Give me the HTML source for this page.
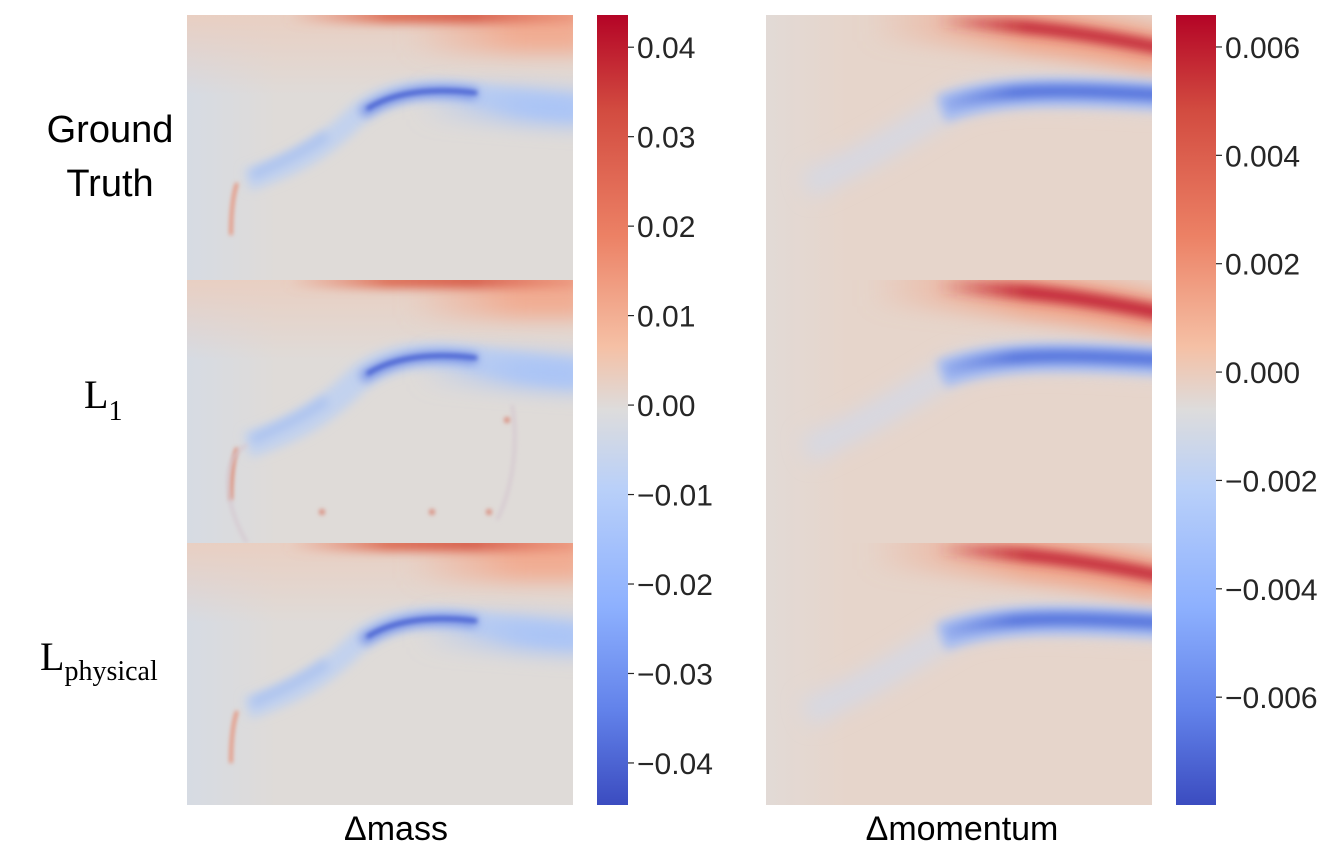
<!DOCTYPE html>
<html><head><meta charset="utf-8"><style>
body{margin:0;background:#fff;}
svg{display:block;font-family:"Liberation Sans",sans-serif;}
</style></head><body>
<svg id="fig" width="1340" height="861" viewBox="0 0 1340 861" xmlns="http://www.w3.org/2000/svg">
<defs>
<linearGradient id="cw" x1="0" y1="0" x2="0" y2="1">
<stop offset="0" stop-color="#b40426"/><stop offset="0.12" stop-color="#d24b40"/><stop offset="0.28" stop-color="#ec8165"/>
<stop offset="0.42" stop-color="#f5c0a5"/><stop offset="0.5" stop-color="#dddcdc"/><stop offset="0.6" stop-color="#b9d0f9"/>
<stop offset="0.75" stop-color="#8db0fe"/><stop offset="0.88" stop-color="#6282ea"/><stop offset="1" stop-color="#3b4cc0"/>
</linearGradient>
<linearGradient id="leftTint" x1="0" x2="1"><stop offset="0" stop-color="#d6dbe3"/><stop offset="1" stop-color="#d6dbe3" stop-opacity="0"/></linearGradient>
<linearGradient id="leftTintM" x1="0" x2="1"><stop offset="0" stop-color="#e2dad6"/><stop offset="1" stop-color="#e2dad6" stop-opacity="0"/></linearGradient>
<linearGradient id="topWash" x1="0" y1="0" x2="0" y2="1"><stop offset="0" stop-color="#e9cfc2"/><stop offset="1" stop-color="#e9cfc2" stop-opacity="0"/></linearGradient>
<linearGradient id="fadeBlue" gradientUnits="userSpaceOnUse" x1="230" y1="0" x2="340" y2="0"><stop offset="0" stop-color="#aac4f6" stop-opacity="0"/><stop offset="1" stop-color="#aac4f6"/></linearGradient>
<linearGradient id="fadeOrange" gradientUnits="userSpaceOnUse" x1="220" y1="0" x2="330" y2="0"><stop offset="0" stop-color="#f1ac92" stop-opacity="0"/><stop offset="1" stop-color="#f1ac92"/></linearGradient>
<linearGradient id="fadeRedTop" gradientUnits="userSpaceOnUse" x1="100" y1="0" x2="386" y2="0"><stop offset="0" stop-color="#e9866c" stop-opacity="0"/><stop offset="0.35" stop-color="#dd6a52"/><stop offset="0.65" stop-color="#d65a48"/><stop offset="1" stop-color="#e9866c" stop-opacity="0.6"/></linearGradient>
<linearGradient id="fadeMomRed" gradientUnits="userSpaceOnUse" x1="100" y1="0" x2="260" y2="0"><stop offset="0" stop-color="#f0a387" stop-opacity="0"/><stop offset="1" stop-color="#f0a387"/></linearGradient>
<linearGradient id="fadeMomCore" gradientUnits="userSpaceOnUse" x1="170" y1="0" x2="260" y2="0"><stop offset="0" stop-color="#c42c3a" stop-opacity="0"/><stop offset="1" stop-color="#c42c3a"/></linearGradient>
<linearGradient id="fadeMomBlue" gradientUnits="userSpaceOnUse" x1="160" y1="0" x2="250" y2="0"><stop offset="0" stop-color="#4f6edb" stop-opacity="0"/><stop offset="1" stop-color="#4f6edb"/></linearGradient>
<filter id="b2" filterUnits="userSpaceOnUse" x="-100" y="-100" width="600" height="500"><feGaussianBlur stdDeviation="2"/></filter>
<filter id="b5" filterUnits="userSpaceOnUse" x="-100" y="-100" width="600" height="500"><feGaussianBlur stdDeviation="5"/></filter>
<filter id="b10" filterUnits="userSpaceOnUse" x="-100" y="-100" width="600" height="500"><feGaussianBlur stdDeviation="10"/></filter>
<clipPath id="cm"><rect x="0" y="0" width="386" height="266"/></clipPath>
<clipPath id="cmLast"><rect x="0" y="0" width="386" height="262"/></clipPath>
</defs>
<g id="panels"></g>
<g id="cbars"></g>
<text x="110" y="142" font-size="38" text-anchor="middle">Ground</text>
<text x="110" y="196" font-size="38" text-anchor="middle">Truth</text>
<text x="84" y="408" font-size="40" font-family="Liberation Serif, serif">L<tspan font-size="28" dy="12">1</tspan></text>
<text x="40" y="670" font-size="40" font-family="Liberation Serif, serif">L<tspan font-size="28" dy="10">physical</tspan></text>
<text x="396" y="840" font-size="34" text-anchor="middle">Δmass</text>
<text x="962" y="840" font-size="34" text-anchor="middle">Δmomentum</text>
</svg>
<script>
const massTicks=[0.04,0.03,0.02,0.01,0.00,-0.01,-0.02,-0.03,-0.04];
const massTickLabels=["0.04","0.03","0.02","0.01","0.00","−0.01","−0.02","−0.03","−0.04"];
const massRange=[0.0436,-0.0447];
const momTicks=[0.006,0.004,0.002,0.000,-0.002,-0.004,-0.006];
const momTickLabels=["0.006","0.004","0.002","0.000","−0.002","−0.004","−0.006"];
const momRange=[0.00659,-0.00799];
const rowNames=["ground-truth","l1","lphysical"];
const rowTops=[15,280,543];

const NS="http://www.w3.org/2000/svg";
function mk(tag,attrs,parent){const e=document.createElementNS(NS,tag);for(const k in attrs)e.setAttribute(k,attrs[k]);parent.appendChild(e);return e;}

function massPanel(p,noisy){
  mk('rect',{x:0,y:0,width:386,height:270,fill:'#dfdbd8'},p);
  mk('rect',{x:0,y:0,width:90,height:270,fill:'url(#leftTint)'},p);
  mk('rect',{x:0,y:0,width:386,height:80,fill:'url(#topWash)'},p);
  mk('rect',{x:200,y:-10,width:200,height:48,fill:'url(#fadeOrange)',filter:'url(#b10)'},p);
  mk('rect',{x:100,y:-6,width:290,height:14,fill:'url(#fadeRedTop)',filter:'url(#b5)'},p);
  mk('path',{d:'M60 165 C110 150 140 130 170 100 C200 75 240 72 280 78 C320 84 350 90 400 95',fill:'none',stroke:'#c2d2ee','stroke-width':noisy?26:22,filter:'url(#b5)'},p);
  mk('path',{d:'M220 88 C280 86 340 92 400 95',fill:'none',stroke:'url(#fadeBlue)','stroke-width':34,filter:'url(#b10)'},p);
  mk('path',{d:'M175 98 C205 78 240 72 290 79',fill:'none',stroke:'#6d88e4','stroke-width':10,filter:'url(#b5)'},p);
  mk('path',{d:'M180 94 C205 78 240 72 290 78',fill:'none',stroke:'#4a62d2','stroke-width':4,filter:'url(#b2)'},p);
  mk('path',{d:'M65 160 C90 148 110 140 140 120',fill:'none',stroke:'#a7c0f0','stroke-width':8,filter:'url(#b5)'},p);
  mk('path',{d:'M50 168 C46 180 44 200 44 220',fill:'none',stroke:noisy?'#e0704f':'#e8866a','stroke-width':3,filter:'url(#b2)'},p);
  if(noisy){
    mk('path',{d:'M60 165 C30 180 40 230 60 263 M325 125 C330 150 330 200 310 240',fill:'none',stroke:'#d5c8d0','stroke-width':3,filter:'url(#b2)'},p);
    [[135,232],[245,232],[302,232],[320,140]].forEach(([x,y])=>mk('circle',{cx:x,cy:y,r:3,fill:'#d98a7a',filter:'url(#b2)'},p));
  }
}
function momPanel(p,strong){
  mk('rect',{x:0,y:0,width:386,height:270,fill:'#e6d5cb'},p);
  mk('rect',{x:0,y:0,width:80,height:270,fill:'url(#leftTintM)'},p);
  mk('path',{d:'M100 3 C230 8 320 20 400 38',fill:'none',stroke:'url(#fadeMomRed)','stroke-width':46,filter:'url(#b10)'},p);
  mk('path',{d:'M170 6 C270 10 330 20 400 34',fill:'none',stroke:'url(#fadeMomCore)','stroke-width':strong?15:13,filter:'url(#b5)'},p);
  mk('path',{d:'M40 170 C110 140 150 110 190 88 C230 72 300 75 400 82',fill:'none',stroke:'#d6d8e3','stroke-width':26,filter:'url(#b10)'},p);
  mk('path',{d:'M175 94 C230 74 300 75 400 82',fill:'none',stroke:'#a6bcf1','stroke-width':28,filter:'url(#b5)'},p);
  mk('path',{d:'M180 90 C240 72 300 75 400 80',fill:'none',stroke:'url(#fadeMomBlue)','stroke-width':12,filter:'url(#b5)'},p);
}
const panels=document.getElementById('panels');
rowTops.forEach((t,i)=>{
  const clip=i===2?'url(#cmLast)':'url(#cm)';
  const g1=mk('g',{transform:`translate(187,${t})`,'clip-path':clip},panels);
  
  
  massPanel(g1,i===1);
  const g2=mk('g',{transform:`translate(766,${t})`,'clip-path':clip},panels);
  
  
  momPanel(g2,i===1);
});
function colorbar(x,w,range,ticks,labels,name){
  const cb=document.getElementById('cbars');
  const g=mk('g',{},cb);
  
  
  const top=15,bot=805;
  mk('rect',{x:x,y:top,width:w,height:bot-top,fill:'url(#cw)'},g);
  const yv=v=>top+(range[0]-v)/(range[0]-range[1])*(bot-top);
  ticks.forEach((v,i)=>{
    const y=yv(v);
    const l=mk('line',{x1:x+w,x2:x+w+6,y1:y,y2:y,stroke:'#262626','stroke-width':1.2},g);
    
    
    const t=mk('text',{x:x+w+9,y:y+11,'font-size':30,fill:'#262626'},g);
    
    
    t.textContent=labels[i];
  });
}
colorbar(597,31,massRange,massTicks,massTickLabels,'mass-colorbar');
colorbar(1176,40,momRange,momTicks,momTickLabels,'momentum-colorbar');
</script>
</body></html>
